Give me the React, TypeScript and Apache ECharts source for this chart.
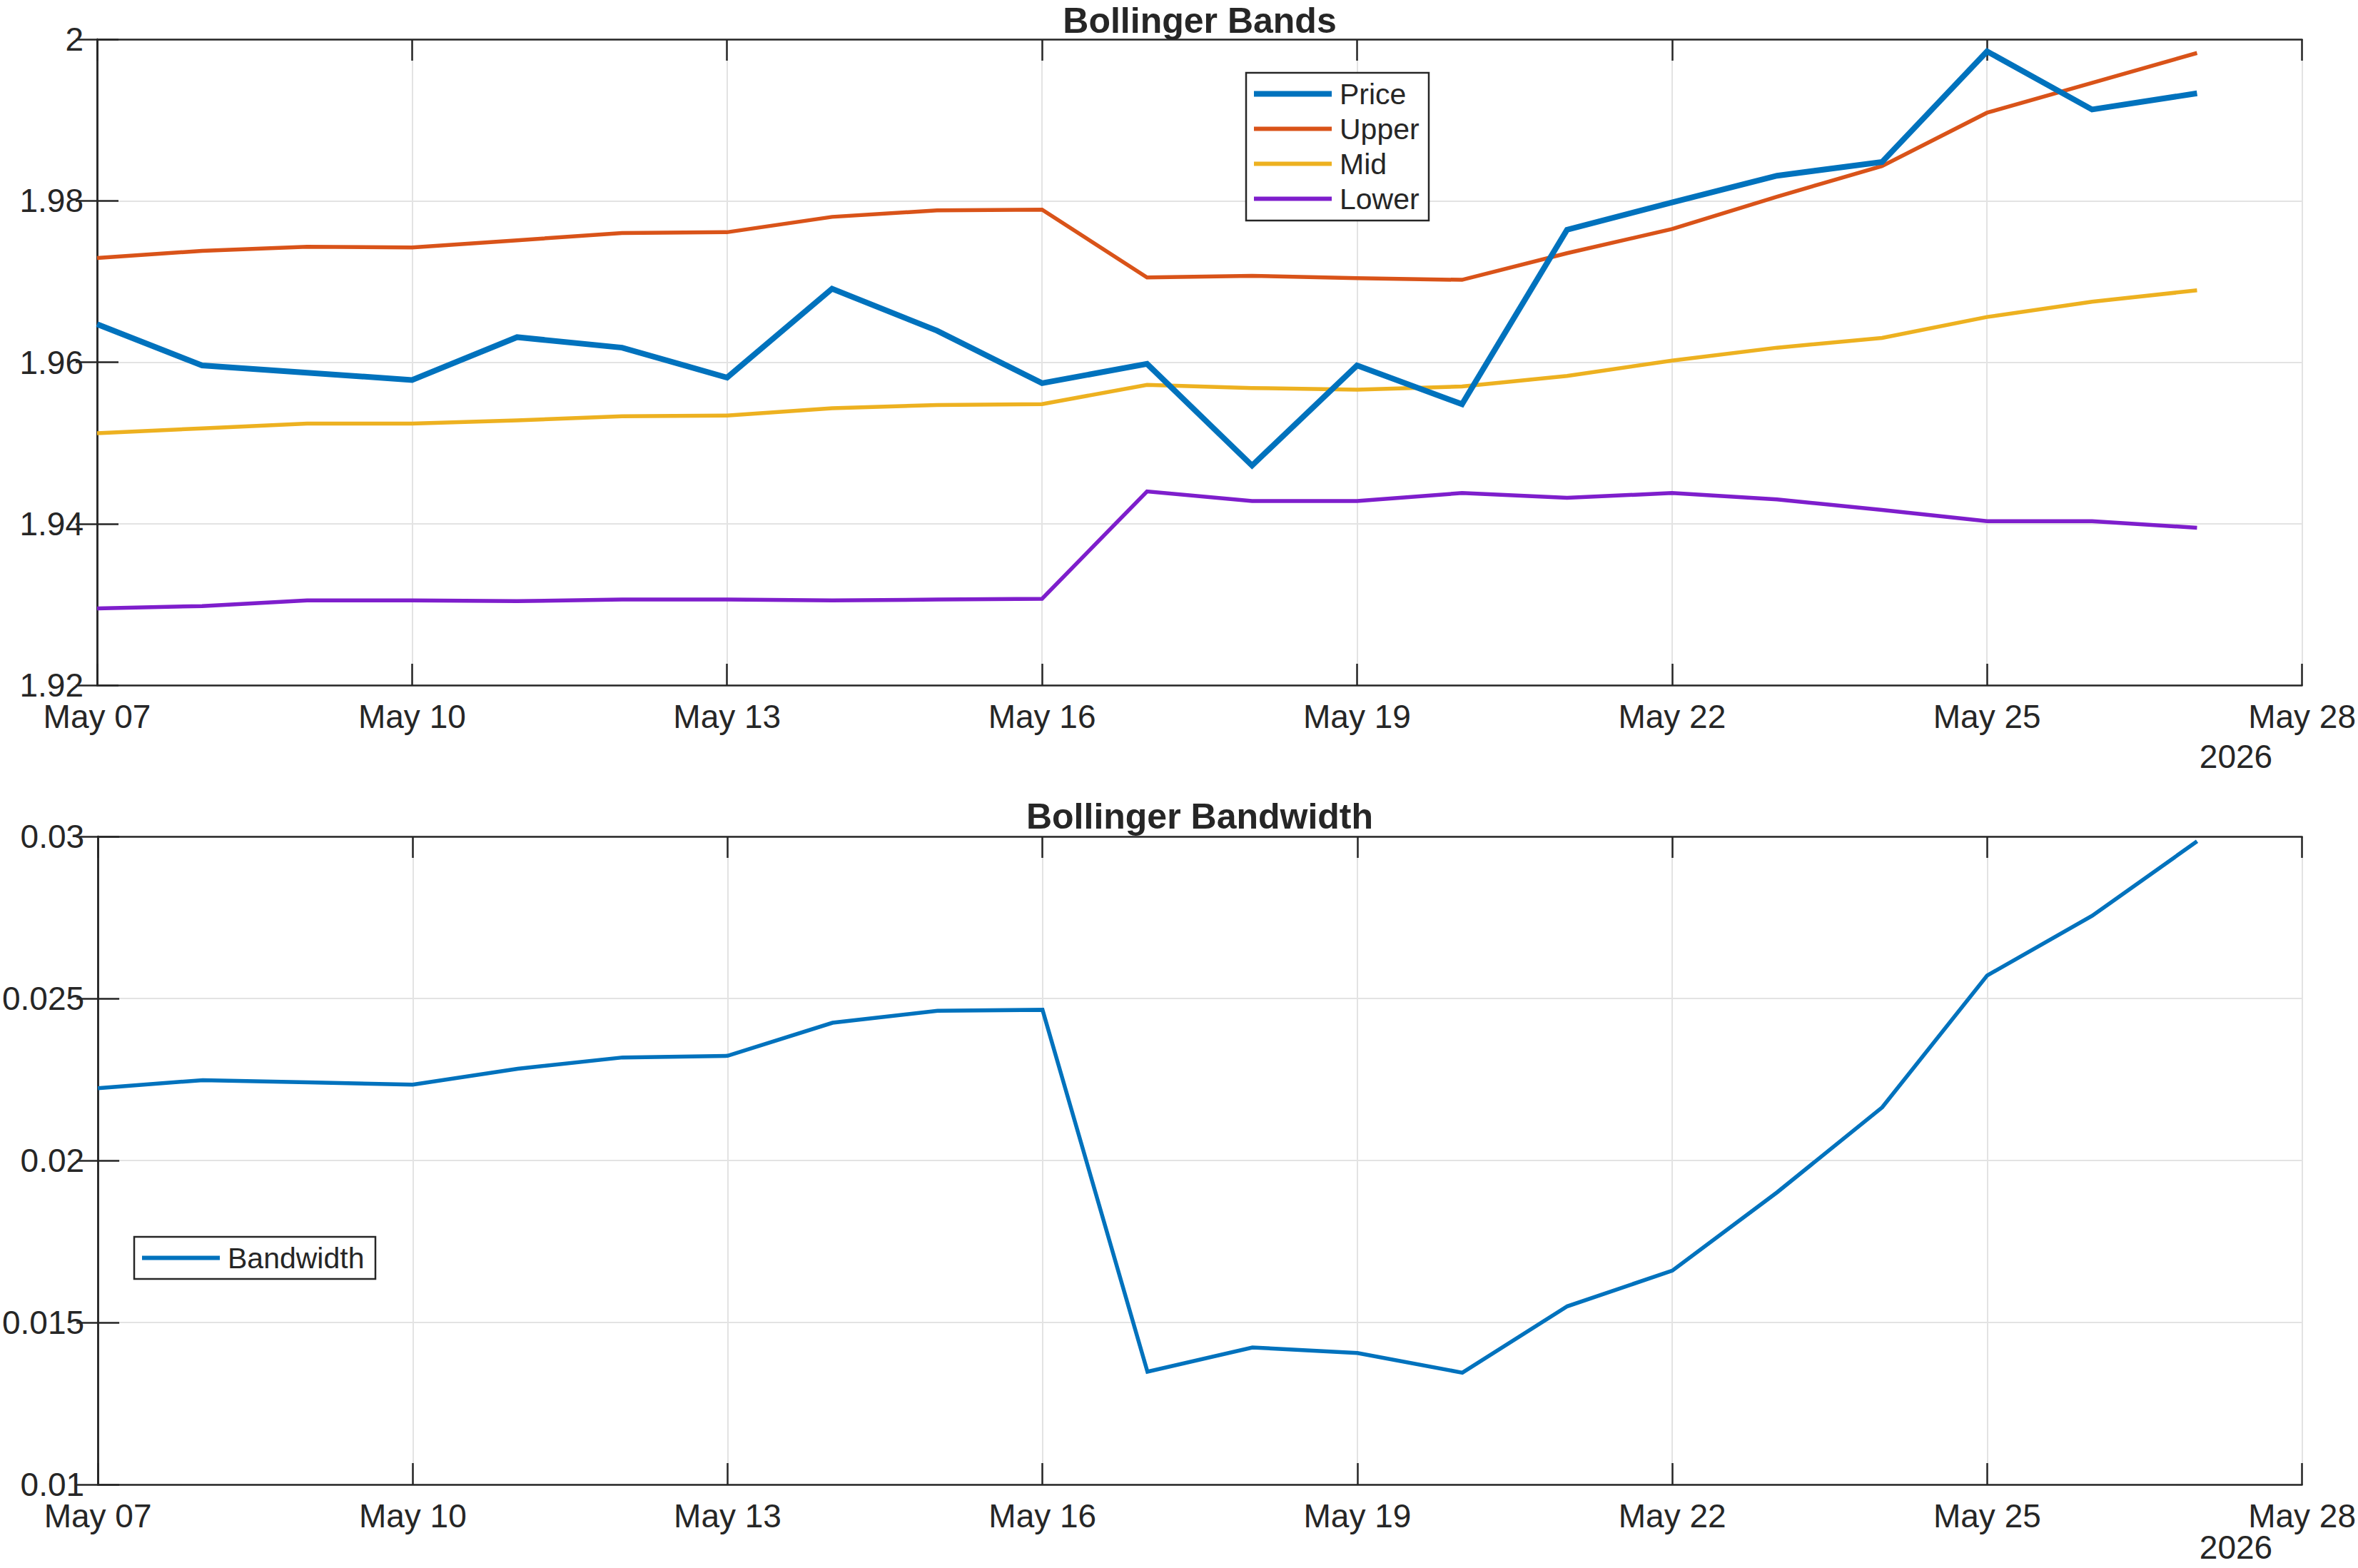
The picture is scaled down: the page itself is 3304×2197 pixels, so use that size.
import React, { useEffect, useRef } from "react";
import * as echarts from "echarts";

const dates: string[] = [
  "2026-05-07", "2026-05-08", "2026-05-09", "2026-05-10", "2026-05-11", "2026-05-12", "2026-05-13",
  "2026-05-14", "2026-05-15", "2026-05-16", "2026-05-17", "2026-05-18", "2026-05-19", "2026-05-20",
  "2026-05-21", "2026-05-22", "2026-05-23", "2026-05-24", "2026-05-25", "2026-05-26", "2026-05-27",
];

const price: number[] = [
  1.9647, 1.9596, 1.9587, 1.9578, 1.9631, 1.9618, 1.9581, 1.9691, 1.9639, 1.9574, 1.9598,
  1.9472, 1.9596, 1.9548, 1.9764, 1.9798, 1.9831, 1.9848, 1.9985, 1.9913, 1.9933,
];
const upper: number[] = [
  1.9729, 1.9738, 1.9743, 1.9742, 1.9751, 1.976, 1.9761, 1.978, 1.9788, 1.9789, 1.9705,
  1.9707, 1.9704, 1.9702, 1.9735, 1.9765, 1.9805, 1.9843, 1.9909, 1.9946, 1.9983,
];
const mid: number[] = [
  1.9512, 1.9518, 1.9524, 1.9524, 1.9528, 1.9533, 1.9534, 1.9543, 1.9547, 1.9548, 1.9572,
  1.9568, 1.9566, 1.957, 1.9583, 1.9602, 1.9618, 1.963, 1.9656, 1.9675, 1.9689,
];
const lower: number[] = [
  1.9295, 1.9298, 1.9305, 1.9305, 1.9304, 1.9306, 1.9306, 1.9305, 1.9306, 1.9307, 1.944,
  1.9428, 1.9428, 1.9438, 1.9432, 1.9438, 1.943, 1.9417, 1.9403, 1.9403, 1.9395,
];
const bandwidth: number[] = [
  0.02223, 0.02248, 0.02241, 0.02234, 0.02283, 0.02318, 0.02323, 0.02425, 0.02462, 0.02465, 0.01348,
  0.01423, 0.01406, 0.01345, 0.0155, 0.0166, 0.01902, 0.02164, 0.02571, 0.02755, 0.02985,
];

const xStartDate = "2026-05-07";
const xEndDate = "2026-05-28";
const xTickStepDays = 3;
const yearLabel = "2026";
const monthNames = ["Jan", "Feb", "Mar", "Apr", "May", "Jun", "Jul", "Aug", "Sep", "Oct", "Nov", "Dec"];

const DAY = 86400000;
const t0 = Date.parse(xStartDate + "T00:00:00Z");
const dayOffset = (d: string) => Math.round((Date.parse(d + "T00:00:00Z") - t0) / DAY);
const xMax = dayOffset(xEndDate);

const fmtDate = (v: number) => {
  const d = new Date(t0 + Math.round(v) * DAY);
  const dd = d.getUTCDate();
  return monthNames[d.getUTCMonth()] + " " + (dd < 10 ? "0" + dd : String(dd));
};

const pts = (vals: number[]) => vals.map((v, i) => [dayOffset(dates[i]), v]);

const FONT = "'Liberation Sans', Arial, Helvetica, sans-serif";
const TXT = "#262626";
const AX = "#262626";
const GRIDC = "#e3e3e3";

const C_PRICE = "#0072BD";
const C_UPPER = "#D95319";
const C_MID = "#EDB120";
const C_LOWER = "#7E1ECC";

const W = 3304;
const H = 2197;
const G_LEFT = 136;
const G_W = 3090;
const G1_TOP = 55;
const G1_H = 905;
const G2_TOP = 1172;
const G2_H = 908;

function App() {
  const ref = useRef<HTMLDivElement>(null);

  useEffect(() => {
    if (!ref.current) return;
    const chart = echarts.init(ref.current, null, { renderer: "svg", width: W, height: H });

    const mainX = (gridIndex: number) => ({
      type: "value",
      gridIndex,
      min: 0,
      max: xMax,
      interval: xTickStepDays,
      position: "bottom",
      axisLine: { show: true, lineStyle: { color: AX, width: 2.5 } },
      axisTick: { show: true, inside: true, length: 30, lineStyle: { color: AX, width: 2.5 } },
      axisLabel: {
        show: true,
        formatter: (v: number) => fmtDate(v),
        color: TXT,
        fontFamily: FONT,
        fontSize: 46,
        margin: 21,
        showMinLabel: true,
        showMaxLabel: true,
      },
      splitLine: { show: true, lineStyle: { color: GRIDC, width: 2 } },
    });
    const mirrorX = (gridIndex: number) => ({
      type: "value",
      gridIndex,
      min: 0,
      max: xMax,
      interval: xTickStepDays,
      position: "top",
      axisLine: { show: true, lineStyle: { color: AX, width: 2.5 } },
      axisTick: { show: true, inside: true, length: 30, lineStyle: { color: AX, width: 2.5 } },
      axisLabel: { show: false },
      splitLine: { show: false },
    });
    const mainY = (gridIndex: number, min: number, max: number, interval: number) => ({
      type: "value",
      gridIndex,
      min,
      max,
      interval,
      position: "left",
      axisLine: { show: true, lineStyle: { color: AX, width: 2.5 } },
      axisTick: { show: true, inside: true, length: 30, lineStyle: { color: AX, width: 2.5 } },
      axisLabel: {
        show: true,
        color: TXT,
        fontFamily: FONT,
        fontSize: 46,
        margin: 19,
        showMinLabel: true,
        showMaxLabel: true,
        formatter: (v: number) => String(parseFloat(v.toFixed(6))),
      },
      splitLine: { show: true, lineStyle: { color: GRIDC, width: 2 } },
    });
    const mirrorY = (gridIndex: number, min: number, max: number, interval: number) => ({
      type: "value",
      gridIndex,
      min,
      max,
      interval,
      position: "right",
      axisLine: { show: true, lineStyle: { color: AX, width: 2.5 } },
      axisTick: { show: true, inside: true, length: 30, lineStyle: { color: AX, width: 2.5 } },
      axisLabel: { show: false },
      splitLine: { show: false },
    });

    const lineSeries = (name: string, data: number[], color: string, width: number, xi: number, yi: number) => ({
      name,
      type: "line",
      xAxisIndex: xi,
      yAxisIndex: yi,
      data: pts(data),
      symbol: "none",
      showSymbol: false,
      lineStyle: { color, width, join: "miter" },
      itemStyle: { color },
      z: 3,
    });

    const legendBase = {
      orient: "vertical",
      padding: 0,
      itemWidth: 109,
      itemGap: 0,
      icon: "rect",
      selectedMode: false,
      z: 20,
      textStyle: {
        color: TXT,
        fontFamily: FONT,
        fontSize: 41,
        lineHeight: 49,
        padding: [0, 0, 0, 6],
      },
    };

    const titleBase = {
      textStyle: { color: TXT, fontFamily: FONT, fontSize: 50, fontWeight: "bold", lineHeight: 52 },
      padding: 0,
      textAlign: "center",
      left: G_LEFT + G_W / 2,
    };

    const yearText = (yMid: number) => ({
      type: "text",
      x: 3133,
      y: yMid,
      z: 20,
      style: { text: yearLabel, fill: TXT, font: `46px ${FONT}`, textAlign: "center", textVerticalAlign: "middle" },
    });

    const option = {
      animation: false,
      backgroundColor: "#ffffff",
      title: [
        { ...titleBase, text: "Bollinger Bands", top: 3 },
        { ...titleBase, text: "Bollinger Bandwidth", top: 1118 },
      ],
      grid: [
        { left: G_LEFT, top: G1_TOP, width: G_W, height: G1_H, containLabel: false },
        { left: G_LEFT, top: G2_TOP, width: G_W, height: G2_H, containLabel: false },
      ],
      xAxis: [mainX(0), mirrorX(0), mainX(1), mirrorX(1)],
      yAxis: [
        mainY(0, 1.92, 2, 0.02),
        mirrorY(0, 1.92, 2, 0.02),
        mainY(1, 0.01, 0.03, 0.005),
        mirrorY(1, 0.01, 0.03, 0.005),
      ],
      legend: [
        { ...legendBase, left: 1757, top: 107, itemHeight: 8, data: ["Price"] },
        { ...legendBase, left: 1757, top: 156, itemHeight: 6, data: ["Upper", "Mid", "Lower"] },
        { ...legendBase, left: 199, top: 1738, itemHeight: 6, data: ["Bandwidth"] },
      ],
      series: [
        lineSeries("Upper", upper, C_UPPER, 5.5, 0, 0),
        lineSeries("Mid", mid, C_MID, 5.5, 0, 0),
        lineSeries("Lower", lower, C_LOWER, 5.5, 0, 0),
        { ...lineSeries("Price", price, C_PRICE, 8, 0, 0), z: 4 },
        lineSeries("Bandwidth", bandwidth, C_PRICE, 5.5, 2, 2),
      ],
      graphic: [
        {
          type: "rect",
          z: 10,
          shape: { x: 1746, y: 102, width: 256, height: 207 },
          style: { fill: "#ffffff", stroke: AX, lineWidth: 2.5 },
        },
        {
          type: "rect",
          z: 10,
          shape: { x: 188, y: 1733, width: 338, height: 59 },
          style: { fill: "#ffffff", stroke: AX, lineWidth: 2.5 },
        },
        yearText(1060),
        yearText(2168),
      ],
    };

    chart.setOption(option as any);
    return () => chart.dispose();
  }, []);

  return (
    <div
      ref={ref}
      style={{ position: "fixed", left: 0, top: 0, width: W, height: H, background: "#ffffff" }}
    />
  );
}

export default App;
